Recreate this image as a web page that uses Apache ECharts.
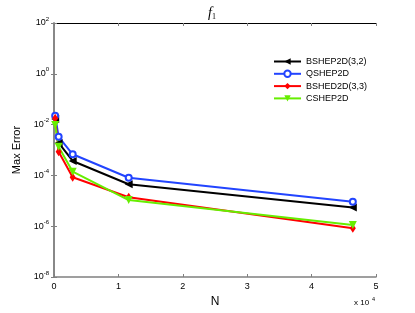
<!DOCTYPE html>
<html><head><meta charset="utf-8">
<script src="https://cdn.jsdelivr.net/npm/echarts@6/dist/echarts.min.js"></script>
<style>html,body{margin:0;padding:0;background:#fff}#c{width:415px;height:313px}</style>
</head><body><div id="c"></div>
<script>
const N = [180, 720, 2900, 11600, 46400];
const bshep32 = [0.0165, 0.0019, 0.00037, 0.000045, 0.0000054];
const qshep = [0.0224, 0.0033, 0.00068, 0.000081, 0.0000092];
const bshed33 = [0.0178, 0.00085, 0.000085, 0.0000138, 0.00000083];
const cshep = [0.0096, 0.00135, 0.00014, 0.0000107, 0.00000112];
const seriesNames = ['BSHEP2D(3,2)', 'QSHEP2D', 'BSHED2D(3,3)', 'CSHEP2D'];
const xTicks = [0, 1, 2, 3, 4, 5];

const chart = echarts.init(document.getElementById('c'), null, {renderer: 'canvas'});
const font = 'Liberation Sans, Arial, sans-serif';
function pairs(arr){ return arr.map((v,i)=>[N[i], v]); }
const supRich = {
  b: {fontSize: 9, fontFamily: font, color: '#000'},
  s: {fontSize: 6, fontFamily: font, color: '#000', padding: [0,0,8,0]}
};
chart.setOption({
  animation: false,
  title: {
    text: '{i|f}{sub|1}', left: 203, top: 1,
    textStyle: {fontWeight: 'normal', rich: {
      i: {fontSize: 14, fontStyle: 'italic', fontWeight: 'normal', fontFamily: 'Liberation Serif, serif', color: '#000'},
      sub: {fontSize: 8, fontWeight: 'normal', fontFamily: 'Liberation Serif, serif', color: '#000', padding: [7,0,0,0]}
    }}
  },
  grid: {left: 54, right: 39, top: 23, bottom: 36},
  legend: {
    left: 268, top: 52, orient: 'vertical', itemGap: 3.3,
    itemWidth: 27, itemHeight: 8,
    textStyle: {fontSize: 9, fontFamily: font, color: '#000', padding: [0,0,0,0]},
    data: seriesNames
  },
  xAxis: [{
    type: 'value', min: 0, max: 50000, interval: 10000,
    name: 'N', nameLocation: 'middle', nameGap: 15,
    nameTextStyle: {fontSize: 12, fontFamily: font, color: '#000'},
    axisLine: {show: true, onZero: false, lineStyle: {color: '#808080', width: 1.5}},
    axisTick: {inside: true, length: 3, lineStyle: {color: '#808080'}},
    axisLabel: {formatter: v => String(v/10000), fontSize: 9, fontFamily: font, color: '#000', margin: 5},
    splitLine: {show: false}
  }, {
    type: 'value', min: 0, max: 50000, interval: 10000, position: 'top',
    axisLine: {show: true, onZero: false, lineStyle: {color: '#000', width: 1}},
    axisTick: {inside: true, length: 3, lineStyle: {color: '#808080'}},
    axisLabel: {show: false}, splitLine: {show: false}
  }],
  yAxis: [{
    type: 'log', logBase: 10, min: 1e-8, max: 1e2, interval: 2,
    name: 'Max Error', nameLocation: 'middle', nameGap: 27,
    nameTextStyle: {fontSize: 11, fontFamily: font, color: '#000'},
    axisLine: {show: true, lineStyle: {color: '#808080', width: 1.5}},
    axisTick: {inside: true, length: 3, lineStyle: {color: '#808080'}},
    axisLabel: {
      formatter: v => '{b|10}{s|' + Math.round(Math.log10(v)) + '}',
      rich: supRich, margin: 5
    },
    splitLine: {show: false}
  }, {
    type: 'log', logBase: 10, min: 1e-8, max: 1e2, interval: 2, position: 'right',
    axisLine: {show: true, lineStyle: {color: '#808080', width: 1.5}},
    axisTick: {inside: true, length: 3, lineStyle: {color: '#808080'}},
    axisLabel: {show: false}, splitLine: {show: false}
  }],
  graphic: [{
    type: 'text', left: 354, top: 299,
    style: {text: 'x 10', fontSize: 8, fontFamily: font, fill: '#000'}
  }, {
    type: 'text', left: 372, top: 296,
    style: {text: '4', fontSize: 5.5, fontFamily: font, fill: '#000'}
  }],
  series: [
    {name: seriesNames[0], type: 'line', data: pairs(bshep32), color: '#000',
     symbol: 'triangle', symbolRotate: 90, symbolSize: 8,
     lineStyle: {width: 2, color: '#000'}, itemStyle: {color: '#000'}},
    {name: seriesNames[1], type: 'line', data: pairs(qshep), color: '#2244ff',
     symbol: 'circle', symbolSize: 6,
     lineStyle: {width: 2, color: '#2244ff'}, itemStyle: {color: '#fff', borderColor: '#2244ff', borderWidth: 2}},
    {name: seriesNames[2], type: 'line', data: pairs(bshed33), color: '#ff0000',
     symbol: 'diamond', symbolSize: [6, 9],
     lineStyle: {width: 2, color: '#ff0000'}, itemStyle: {color: '#ff0000'}},
    {name: seriesNames[3], type: 'line', data: pairs(cshep), color: '#66ee00',
     symbol: 'triangle', symbolRotate: 180, symbolSize: 8,
     lineStyle: {width: 2, color: '#66ee00'}, itemStyle: {color: '#66ee00'}}
  ]
});
</script></body></html>
